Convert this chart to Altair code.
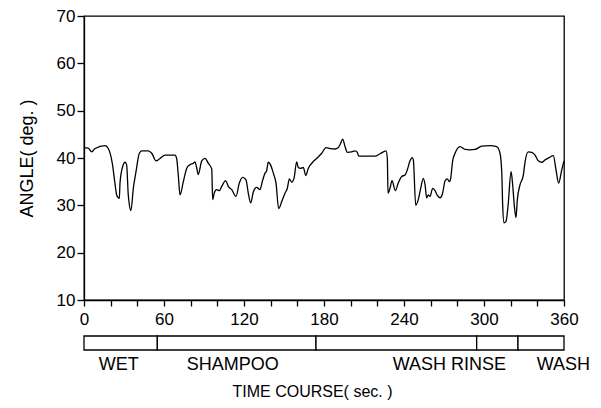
import altair as alt
import pandas as pd

time_sec = [
    0, 3.2, 5.8, 8.3, 15.8, 18.2, 21.2, 23.2, 24.5, 26.5,
    27, 29, 30.8, 32, 33.2, 35.2, 37, 39, 41.5, 43.3,
    48.2, 50.8, 54, 57, 60.8, 68.2, 69.5, 70.7, 72, 74.5,
    77, 79.5, 82, 83.2, 84.5, 85.7, 88.3, 90.8, 93.2, 95.8,
    96.5, 97.7, 99.5, 101.5, 103.3, 106.3, 108.2, 110.8, 114, 116.5,
    119, 121.5, 123.2, 125, 127, 129.5, 132, 133.7, 135.8, 137,
    138.2, 140, 142, 144, 146, 148.3, 150.8, 152.5, 154, 155.8,
    157.5, 159.5, 160.7, 162.5, 164.5, 166.3, 168.2, 171.5, 174.5, 178.3,
    181.5, 184.5, 188.3, 190.7, 192.5, 194, 195.8, 197.5, 200.8, 203.3,
    205, 206, 209.5, 218.3, 222, 226.5, 227.5, 228, 229.5, 231,
    233.5, 235.7, 238.3, 240.8, 242.5, 244.5, 246.2, 247, 248.8, 250.7,
    252.5, 254.5, 255.8, 257, 258.2, 259.5, 261.5, 263.3, 265, 267,
    269, 270.8, 272.5, 274, 275, 276.5, 278.3, 282, 285.8, 289.5,
    293.3, 298.3, 304.5, 309.5, 312, 313.3, 314, 315, 316.5, 318,
    320.3, 321.5, 322.7, 324, 325, 327, 329.5, 330.8, 333.2, 335.8,
    338.3, 340.7, 343.3, 345.8, 349, 352, 354, 356, 358.3, 360,
]
angle_deg = [
    42.2, 42.1, 41.3, 42.0, 42.6, 42.0, 38.9, 34.7, 32.2, 31.5,
    34.7, 38.2, 39.1, 38.5, 32.2, 28.9, 33.6, 37.1, 41.0, 41.5,
    41.5, 41.0, 39.4, 39.9, 40.6, 40.6, 39.9, 36.4, 32.2, 35.0,
    37.8, 38.6, 38.9, 39.2, 38.0, 36.5, 39.4, 39.9, 38.9, 37.7,
    31.2, 32.6, 33.3, 33.1, 34.0, 35.2, 34.0, 33.3, 31.9, 34.7,
    35.9, 35.4, 32.6, 30.5, 32.8, 33.8, 33.3, 35.0, 36.8, 37.3,
    39.1, 38.5, 36.8, 34.7, 29.3, 30.8, 32.6, 33.6, 35.6, 34.9,
    35.7, 39.2, 38.0, 37.8, 38.0, 36.3, 37.8, 39.1, 39.9, 41.0,
    42.2, 42.0, 41.9, 42.2, 43.1, 44.0, 42.4, 41.2, 41.3, 41.5,
    41.2, 40.4, 40.4, 40.4, 40.9, 41.5, 39.9, 32.6, 33.6, 35.2,
    33.1, 34.7, 36.1, 36.4, 37.5, 39.4, 40.1, 39.6, 30.0, 31.2,
    33.6, 35.7, 34.3, 31.6, 32.2, 31.9, 33.6, 33.1, 32.1, 31.6,
    32.6, 35.2, 35.6, 35.0, 35.7, 39.4, 41.0, 42.4, 41.8, 41.7,
    41.8, 42.5, 42.6, 42.4, 41.0, 37.1, 30.1, 26.3, 26.6, 29.8,
    37.1, 34.3, 30.1, 27.4, 31.2, 34.3, 36.4, 39.2, 41.3, 41.2,
    40.6, 39.4, 39.1, 39.6, 40.1, 40.5, 37.5, 34.7, 37.5, 39.4,
]

phase_bounds = [0, 55, 174, 294.5, 325.5, 360]
phase_labels = ["WET", "SHAMPOO", "WASH RINSE", "WASH"]
phase_label_x = [26, 111.5, 274, 339.5]
phase_label_align = ["center", "center", "center", "left"]

x_ticks = list(range(0, 361, 20))
y_ticks = list(range(10, 71, 10))

FONT = "Liberation Sans"

line_df = pd.DataFrame({"t": time_sec, "a": angle_deg})
box_df = pd.DataFrame({"x0": phase_bounds[:-1], "x1": phase_bounds[1:]})
lab_df = pd.DataFrame({"x": phase_label_x, "label": phase_labels, "al": phase_label_align})

xscale = alt.Scale(domain=[0, 360], nice=False)
yscale = alt.Scale(domain=[10, 70], nice=False)

x_axis = alt.Axis(values=x_ticks, labelExpr="datum.value % 60 == 0 ? datum.label : ''",
                  labelOverlap=False, labelFlush=False,
                  tickSize=6, labelPadding=5, title="TIME COURSE( sec. )",
                  titleX=228, titleAlign="center", titleAnchor="start",
                  titleY=91, titleBaseline="middle", titleFontSize=16)

line = alt.Chart(line_df).mark_line(color="black", strokeWidth=1.3, interpolate="monotone").encode(
    x=alt.X("t:Q", scale=xscale, axis=x_axis),
    y=alt.Y("a:Q", scale=yscale,
            axis=alt.Axis(values=y_ticks, tickSize=7, labelPadding=2, labelOverlap=False,
                          labelFlush=False, title="ANGLE( deg. )",
                          titleX=-57, titleBaseline="middle", titleFontSize=18)),
)

boxes = alt.Chart(box_df).mark_rect(fill="white", stroke="black", strokeWidth=1.3).encode(
    x=alt.X("x0:Q", scale=xscale, axis=x_axis, title="TIME COURSE( sec. )"),
    x2="x1:Q",
    y=alt.value(320),
    y2=alt.value(334),
)

labels_c = alt.Chart(lab_df).transform_filter("datum.al == 'center'").mark_text(
    font=FONT, fontSize=18, baseline="middle", align="center", color="black"
).encode(x=alt.X("x:Q", scale=xscale, axis=x_axis, title="TIME COURSE( sec. )"),
         y=alt.value(349), text="label:N")

labels_l = alt.Chart(lab_df).transform_filter("datum.al == 'left'").mark_text(
    font=FONT, fontSize=18, baseline="middle", align="left", color="black"
).encode(x=alt.X("x:Q", scale=xscale, axis=x_axis, title="TIME COURSE( sec. )"),
         y=alt.value(349), text="label:N")

chart = alt.layer(line, boxes, labels_c, labels_l).properties(
    width=480, height=284,
    autosize=alt.AutoSizeParams(type="none"),
    padding={"left": 76, "top": 8, "right": 29, "bottom": 100},
).configure_view(stroke="black", strokeWidth=1.3).configure_axis(
    grid=False, domainColor="black", domainWidth=1.3, tickColor="black", tickWidth=1.3,
    labelColor="black", labelFont=FONT, labelFontSize=17, titleColor="black",
    titleFont=FONT, titleFontWeight="normal", labelOverlap=False,
)

chart.save("out.html", embed_options={"renderer": "svg", "actions": False})
